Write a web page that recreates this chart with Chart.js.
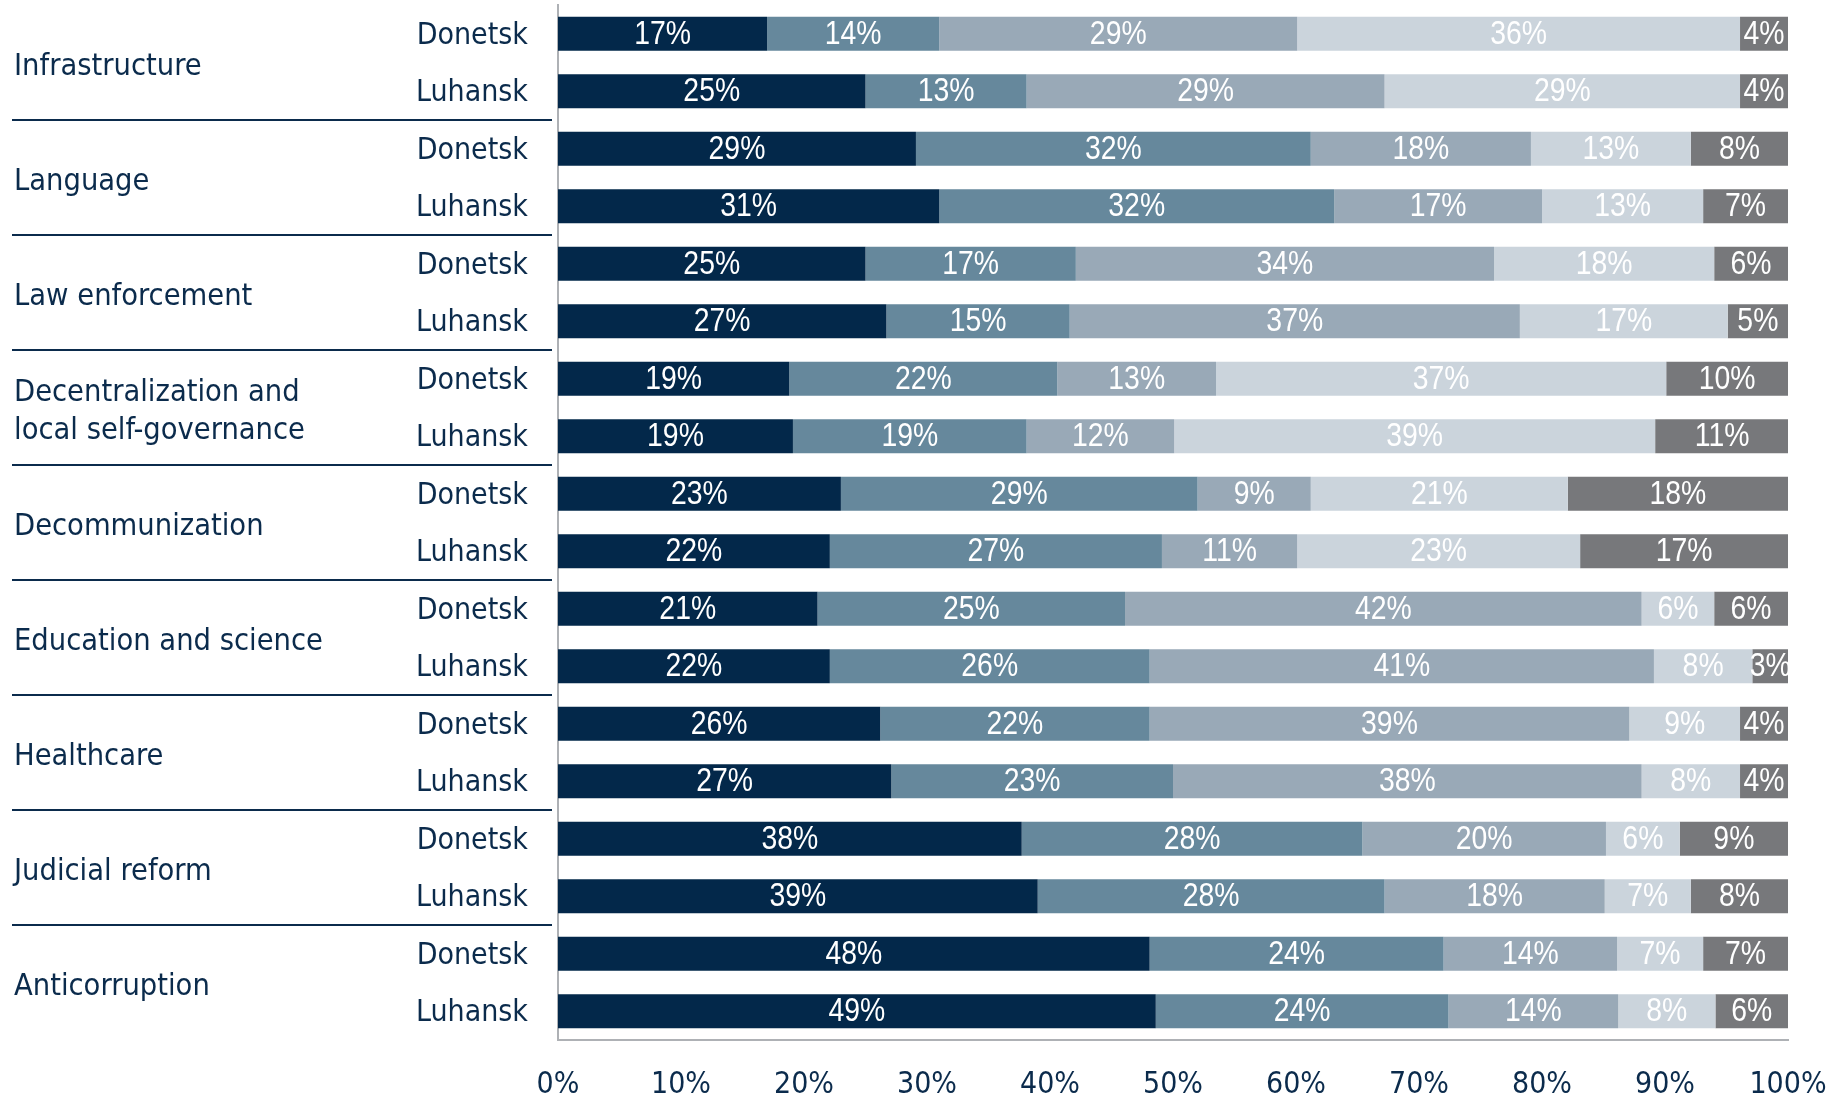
<!DOCTYPE html>
<html>
<head>
<meta charset="utf-8">
<script src="https://cdn.jsdelivr.net/npm/chart.js@4.4.0/dist/chart.umd.min.js"></script>
<style>
  html, body { margin: 0; padding: 0; background: #fff; overflow: hidden; }
  canvas { display: block; }
</style>
</head>
<body>
<canvas id="grafico" width="1833" height="1097"></canvas>
<script>
// Temas (grupos) e regiões
const topicos = ['Infrastructure', 'Language', 'Law enforcement', ['Decentralization and', 'local self-governance'],
  'Decommunization', 'Education and science', 'Healthcare', 'Judicial reform', 'Anticorruption'];
const regioes = ['Donetsk', 'Luhansk'];

// Valores por linha (Donetsk, Luhansk de cada tema), em %
const serie1 = [17.0, 25.0, 29.1, 31.0, 25.0, 26.7, 18.8, 19.1, 23.0, 22.1, 21.1, 22.1, 26.2, 27.1, 37.7, 39.0, 48.1, 48.6];
const serie2 = [14.0, 13.1, 32.1, 32.1, 17.1, 14.9, 21.8, 19.0, 29.0, 27.0, 25.0, 26.0, 21.9, 22.9, 27.7, 28.2, 23.9, 23.8];
const serie3 = [29.1, 29.1, 17.9, 16.9, 34.0, 36.6, 12.9, 12.0, 9.2, 11.0, 42.0, 41.0, 39.0, 38.1, 19.8, 17.9, 14.1, 13.8];
const serie4 = [36.0, 28.9, 13.0, 13.1, 17.9, 16.9, 36.6, 39.1, 20.9, 23.0, 5.9, 8.0, 9.0, 8.0, 6.0, 7.0, 7.0, 7.9];
const serie5 = [3.9, 3.9, 7.9, 6.9, 6.0, 4.9, 9.9, 10.9, 17.9, 16.9, 6.0, 2.9, 3.9, 3.9, 8.8, 7.9, 6.9, 5.9];

const ticksX = [0, 10, 20, 30, 40, 50, 60, 70, 80, 90, 100];

const cores = ['#03284a', '#66889c', '#99a9b7', '#cbd4dc', '#77787b'];
const corTexto = '#0b2b4c';
const fonteRotulo = '"DejaVu Sans Condensed", "DejaVu Sans", sans-serif';

const linhas = topicos.flatMap(() => regioes);

// Nomes dos grupos e linhas separadoras à esquerda
const pluginGrupos = {
  id: 'grupos',
  afterDraw(chart) {
    const { ctx } = chart;
    const y = chart.scales.y;
    ctx.save();
    ctx.font = '30.5px ' + fonteRotulo;
    ctx.fillStyle = corTexto;
    ctx.strokeStyle = corTexto;
    ctx.lineWidth = 2;
    ctx.textBaseline = 'middle';
    ctx.textAlign = 'left';
    topicos.forEach((t, i) => {
      const y1 = y.getPixelForValue(i * 2);
      const y2 = y.getPixelForValue(i * 2 + 1);
      const meio = (y1 + y2) / 2 + 5;
      const partes = Array.isArray(t) ? t : [t];
      partes.forEach((p, k) => {
        ctx.fillText(p, 14, meio + (k - (partes.length - 1) / 2) * 38);
      });
      if (i < topicos.length - 1) {
        const sep = Math.round((y2 + y.getPixelForValue(i * 2 + 2)) / 2);
        ctx.beginPath();
        ctx.moveTo(12, sep);
        ctx.lineTo(552, sep);
        ctx.stroke();
      }
    });
    ctx.restore();
  }
};

// Percentuais dentro das barras (fonte um pouco comprimida na horizontal)
const pluginValores = {
  id: 'valores',
  afterDatasetsDraw(chart) {
    const { ctx } = chart;
    ctx.save();
    ctx.font = '33px "Liberation Sans Narrow", "Liberation Sans", sans-serif';
    ctx.fillStyle = '#ffffff';
    ctx.textAlign = 'center';
    ctx.textBaseline = 'middle';
    chart.data.datasets.forEach((ds, i) => {
      chart.getDatasetMeta(i).data.forEach((bar, j) => {
        const v = ds.data[j];
        ctx.save();
        ctx.translate((bar.x + bar.base) / 2, bar.y + 1);
        ctx.scale(0.86, 1);
        ctx.fillText(Math.round(v) + '%', 0, 0);
        ctx.restore();
      });
    });
    ctx.restore();
  }
};

const series = [serie1, serie2, serie3, serie4, serie5];

new Chart(document.getElementById('grafico'), {
  type: 'bar',
  data: {
    labels: linhas,
    datasets: series.map((s, i) => ({
      label: 'Série ' + (i + 1),
      data: s,
      backgroundColor: cores[i],
      borderWidth: 0,
      barPercentage: 0.59,
      categoryPercentage: 1
    }))
  },
  options: {
    indexAxis: 'y',
    responsive: false,
    animation: false,
    layout: { padding: { top: 5, right: 45, left: 0, bottom: 0 } },
    plugins: {
      legend: { display: false },
      tooltip: { enabled: false }
    },
    scales: {
      x: {
        stacked: true,
        min: 0,
        max: 100,
        afterBuildTicks: axis => { axis.ticks = ticksX.map(v => ({ value: v })); },
        afterFit: s => { s.height = 57; s.paddingLeft = 0; s.paddingRight = 0; },
        grid: { display: false, drawTicks: false },
        border: { display: true, color: '#aeb1b5', width: 2 },
        ticks: {
          callback: v => v + '%',
          color: corTexto,
          padding: 27,
          maxRotation: 0,
          font: { family: fonteRotulo, size: 30 }
        }
      },
      y: {
        stacked: true,
        grid: { display: false, drawTicks: false },
        border: { display: true, color: '#aeb1b5', width: 2 },
        afterFit: s => { s.width = 558; s.paddingTop = 0; s.paddingBottom = 0; },
        ticks: {
          color: corTexto,
          padding: 30,
          labelOffset: 2,
          autoSkip: false,
          font: { family: fonteRotulo, size: 30 }
        }
      }
    }
  },
  plugins: [pluginGrupos, pluginValores]
});
</script>
</body>
</html>
